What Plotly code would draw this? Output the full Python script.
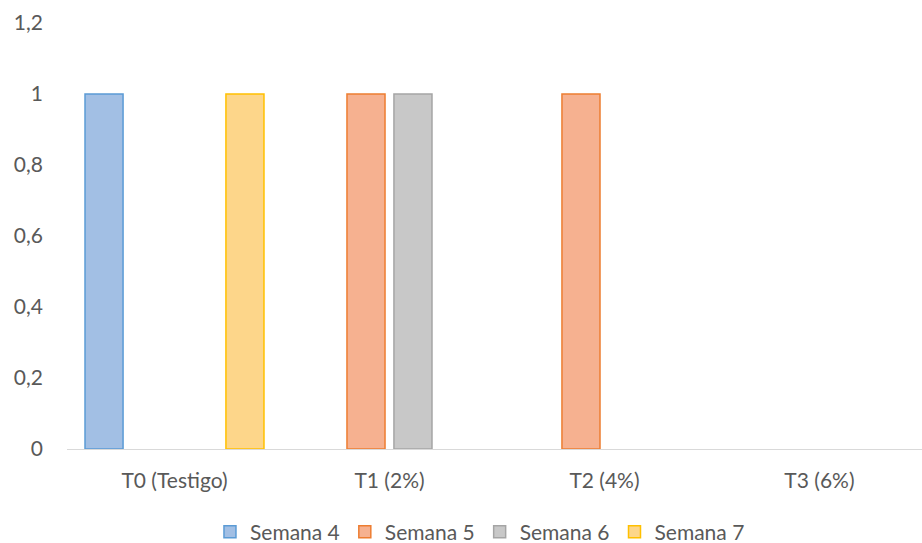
import plotly.graph_objects as go

categories = ["T0 (Testigo)", "T1 (2%)", "T2 (4%)", "T3 (6%)"]
series_names = ["Semana 4", "Semana 5", "Semana 6", "Semana 7"]
semana4 = [1, 0, 0, 0]
semana5 = [0, 1, 1, 0]
semana6 = [0, 1, 0, 0]
semana7 = [1, 0, 0, 0]
y_ticks = [0, 0.2, 0.4, 0.6, 0.8, 1, 1.2]

values = [semana4, semana5, semana6, semana7]
fills = ["#a2bfe4", "#f6b190", "#c8c8c8", "#fdd68a"]
lines = ["#5b9bd5", "#ed7d31", "#a5a5a5", "#ffc000"]

fig = go.Figure()
for name, vals, fc, lc in zip(series_names, values, fills, lines):
    fig.add_trace(go.Bar(
        x=categories,
        y=[v if v != 0 else None for v in vals],
        name=name,
        marker=dict(color=fc, line=dict(color=lc, width=1.5)),
    ))

font_family = "Lato, 'Open Sans', sans-serif"
fig.update_layout(
    width=922, height=543,
    margin=dict(l=67, r=0, t=23, b=94, autoexpand=False),
    paper_bgcolor="white", plot_bgcolor="white",
    barmode="group", bargap=0.126, bargroupgap=0.19,
    separators=",.",
    font=dict(family=font_family, size=21, color="#595959"),
    showlegend=True,
    legend=dict(orientation="h", x=0.483, xanchor="center", y=-0.195, yanchor="middle",
                bgcolor="rgba(0,0,0,0)", itemwidth=30,
                font=dict(size=21, color="#595959"), traceorder="normal"),
    xaxis=dict(type="category", range=[-0.5, 3.477], showline=True, linecolor="#d9d9d9",
               linewidth=1, showgrid=False, ticks="", ticklabelstandoff=13, zeroline=False),
    yaxis=dict(range=[0, 1.2], tickvals=y_ticks, showgrid=False, zeroline=False,
               showline=False, ticks="", ticklabelstandoff=23),
)

fig.write_html("out.html")
